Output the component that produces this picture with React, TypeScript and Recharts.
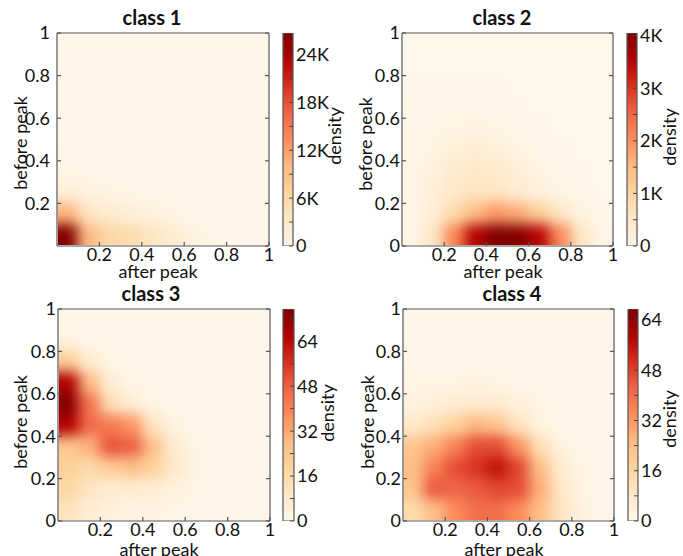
import React from 'react';
import { ScatterChart, Scatter, XAxis, YAxis, BarChart, Bar } from 'recharts';

const PAGE_W = 683;
const PAGE_H = 556;

// ---------- data ----------
const titles = ['class 1', 'class 2', 'class 3', 'class 4'];
const xAxisLabel = 'after peak';
const yAxisLabel = 'before peak';
const colorbarLabel = 'density';

const xTickValues = [0.2, 0.4, 0.6, 0.8, 1];
const yTickValuesClass1 = [0.2, 0.4, 0.6, 0.8, 1];
const yTickValuesOther = [0, 0.2, 0.4, 0.6, 0.8, 1];
const frameTicks = [0, 0.2, 0.4, 0.6, 0.8, 1];

// cell centres of the density grid (after peak columns / before peak rows)
const cellCenters = [0.05, 0.15, 0.25, 0.35, 0.45, 0.55, 0.65, 0.75, 0.85, 0.95];

// rows listed from top (before peak 0.9-1.0) to bottom (0-0.1); columns after peak 0-0.1 ... 0.9-1.0
const class1Density = [
  [250, 250, 250, 250, 250, 250, 250, 250, 250, 250],
  [250, 250, 250, 250, 250, 250, 250, 250, 250, 250],
  [250, 250, 250, 250, 250, 250, 250, 250, 250, 250],
  [300, 250, 250, 250, 250, 250, 250, 250, 250, 250],
  [350, 300, 250, 250, 250, 250, 250, 250, 250, 250],
  [450, 350, 300, 250, 250, 250, 250, 250, 250, 250],
  [700, 550, 450, 350, 300, 250, 250, 250, 250, 250],
  [1800, 1300, 1000, 700, 500, 350, 300, 250, 250, 250],
  [10500, 4000, 2400, 1800, 1300, 800, 500, 350, 250, 250],
  [26500, 10000, 6200, 5200, 3800, 2200, 1200, 600, 350, 250],
];
const class2Density = [
  [30, 30, 30, 30, 30, 30, 30, 30, 30, 30],
  [30, 30, 30, 30, 30, 30, 30, 30, 30, 30],
  [40, 40, 50, 50, 40, 30, 30, 30, 30, 30],
  [50, 60, 80, 80, 60, 40, 30, 30, 30, 30],
  [60, 100, 150, 160, 120, 80, 50, 30, 30, 30],
  [70, 150, 250, 300, 250, 150, 80, 50, 30, 30],
  [80, 220, 420, 500, 430, 260, 130, 70, 40, 30],
  [90, 260, 500, 620, 580, 400, 220, 120, 60, 30],
  [90, 300, 850, 1500, 1900, 1700, 1150, 550, 170, 50],
  [90, 550, 2100, 3500, 4050, 4000, 3500, 2100, 550, 100],
];
const class3Density = [
  [1, 1, 1, 1, 1, 1, 1, 1, 1, 1],
  [3, 1, 1, 1, 1, 1, 1, 1, 1, 1],
  [22, 7, 2, 1, 1, 1, 1, 1, 1, 1],
  [66, 28, 6, 2, 1, 1, 1, 1, 1, 1],
  [75, 44, 14, 6, 2, 1, 1, 1, 1, 1],
  [66, 46, 42, 36, 11, 3, 1, 1, 1, 1],
  [24, 30, 50, 48, 26, 7, 2, 1, 1, 1],
  [20, 16, 22, 26, 20, 9, 3, 1, 1, 1],
  [18, 11, 7, 7, 6, 4, 2, 1, 1, 1],
  [12, 6, 4, 3, 3, 2, 1, 1, 1, 1],
];
const class4Density = [
  [1, 1, 1, 1, 1, 1, 1, 1, 1, 1],
  [1, 1, 1, 1, 1, 1, 1, 1, 1, 1],
  [1, 1, 1, 1, 1, 1, 1, 1, 1, 1],
  [2, 2, 2, 3, 2, 1, 1, 1, 1, 1],
  [3, 4, 6, 7, 6, 4, 2, 1, 1, 1],
  [8, 12, 18, 26, 22, 10, 3, 1, 1, 1],
  [22, 28, 36, 46, 46, 32, 12, 3, 1, 1],
  [24, 36, 46, 50, 56, 47, 24, 6, 2, 1],
  [22, 44, 42, 44, 47, 46, 28, 8, 2, 1],
  [14, 24, 34, 40, 40, 34, 24, 10, 3, 1],
];
const densities = [class1Density, class2Density, class3Density, class4Density];

const colorbarMax = [26700, 4050, 75.5, 67.5];
const colorbarTicks = [
  [0, 3000, 6000, 9000, 12000, 15000, 18000, 21000, 24000],
  [0, 500, 1000, 1500, 2000, 2500, 3000, 3500, 4000],
  [0, 8, 16, 24, 32, 40, 48, 56, 64, 72],
  [0, 8, 16, 24, 32, 40, 48, 56, 64],
];
const colorbarLabels = [
  [0, 6000, 12000, 18000, 24000],
  [0, 1000, 2000, 3000, 4000],
  [0, 16, 32, 48, 64],
  [0, 16, 32, 48, 64],
];

// ---------- style / layout ----------
const ORRD = ['#fff7ec', '#fee8c8', '#fdd49e', '#fdbb84', '#fc8d59', '#ef6548', '#d7301f', '#b30000', '#7f0000'];
const hexToRgb = (h: string) => [1, 3, 5].map((i) => parseInt(h.slice(i, i + 2), 16));
const ORRD_RGB = ORRD.map(hexToRgb);
function orrd(t: number): string {
  const c = Math.max(0, Math.min(1, t)) * (ORRD.length - 1);
  const i = Math.min(ORRD.length - 2, Math.floor(c));
  const f = c - i;
  const a = ORRD_RGB[i];
  const b = ORRD_RGB[i + 1];
  const rgb = a.map((v, k) => Math.round(v + (b[k] - v) * f));
  return `rgb(${rgb[0]},${rgb[1]},${rgb[2]})`;
}

type Box = { l: number; t: number; r: number; b: number };
interface Layout {
  plot: Box;
  cbL: number;
  cbR: number;
  yGap: number;
  xGap: number;
  title: [number, number];
  xLab: [number, number];
  yLab: [number, number];
  dLab: [number, number];
}
const LAYOUT: Layout[] = [
  { plot: { l: 57, t: 33, r: 269, b: 246 }, cbL: 283, cbR: 293, yGap: 11, xGap: 6, title: [152, 25], xLab: [158, 278], yLab: [20, 143], dLab: [334, 136] },
  { plot: { l: 402, t: 33, r: 613, b: 246 }, cbL: 627, cbR: 637, yGap: 6, xGap: 6, title: [502, 25], xLab: [503, 278], yLab: [365, 144], dLab: [669, 137] },
  { plot: { l: 58, t: 309, r: 270, b: 521 }, cbL: 283, cbR: 294, yGap: 6, xGap: 6, title: [151, 301], xLab: [159, 556], yLab: [20, 422], dLab: [327, 413] },
  { plot: { l: 403, t: 309, r: 614, b: 521 }, cbL: 628, cbR: 638, yGap: 6, xGap: 6, title: [512, 301], xLab: [504, 556], yLab: [367, 422], dLab: [669, 419] },
];

const FRAME = '#555';
const TEXT = '#111';
const FONT = 18;
const EDGE_PAD = 30;

function toCells(rows: number[][]) {
  const n = rows.length;
  return rows.flatMap((row, r) =>
    row.map((v, c) => ({ x: cellCenters[c], y: cellCenters[n - 1 - r], v, col: c, rowTop: r, nCols: row.length, nRows: n }))
  );
}

function makeShape(plot: Box, vmax: number) {
  return (props: any) => {
    const { cx, cy, payload } = props;
    if (cx == null || cy == null || !payload) return <g />;
    const cw = (plot.r - plot.l) / payload.nCols;
    const ch = (plot.b - plot.t) / payload.nRows;
    let x0 = cx - cw / 2 - 0.6;
    let x1 = cx + cw / 2 + 0.6;
    let y0 = cy - ch / 2 - 0.6;
    let y1 = cy + ch / 2 + 0.6;
    if (payload.col === 0) x0 -= EDGE_PAD;
    if (payload.col === payload.nCols - 1) x1 += EDGE_PAD;
    if (payload.rowTop === 0) y0 -= EDGE_PAD;
    if (payload.rowTop === payload.nRows - 1) y1 += EDGE_PAD;
    return <rect x={x0} y={y0} width={x1 - x0} height={y1 - y0} fill={orrd(payload.v / vmax)} stroke="none" />;
  };
}

const fmtK = (v: number) => (v >= 1000 ? `${v / 1000}K` : `${v}`);
const lineStyle: any = { stroke: FRAME, strokeWidth: 1.2 };

function HeatPanel({ idx }: { idx: number }) {
  const L = LAYOUT[idx];
  const vmax = colorbarMax[idx];
  const cells = toCells(densities[idx]);
  const XH = 30;
  const YW = 50;
  const margin = { top: L.plot.t - 1, left: L.plot.l - YW, right: PAGE_W - L.plot.r - 1, bottom: PAGE_H - L.plot.b - XH };
  const tickStyle = { fontSize: FONT, fill: TEXT };
  const low: any = { zIndex: 100 };
  const high: any = { zIndex: 700 };
  return (
    <div style={{ position: 'absolute', left: 0, top: 0 }}>
      <ScatterChart width={PAGE_W} height={PAGE_H} margin={margin}>
        <Scatter data={cells} dataKey="y" shape={makeShape(L.plot, vmax)} isAnimationActive={false} className={`heat${idx}`} {...low} />
        <XAxis
          type="number"
          dataKey="x"
          domain={[0, 1]}
          ticks={xTickValues}
          interval={0}
          height={XH}
          tickSize={-4}
          tickMargin={L.xGap}
          tick={tickStyle}
          axisLine={lineStyle}
          tickLine={lineStyle}
          {...high}
        />
        <YAxis
          type="number"
          dataKey="y"
          domain={[0, 1]}
          ticks={idx === 0 ? yTickValuesClass1 : yTickValuesOther}
          interval={0}
          width={YW}
          tickSize={-4}
          tickMargin={L.yGap}
          tick={tickStyle}
          axisLine={lineStyle}
          tickLine={lineStyle}
          {...high}
        />
        <XAxis
          xAxisId="top"
          orientation="top"
          type="number"
          domain={[0, 1]}
          allowDataOverflow
          ticks={frameTicks}
          interval={0}
          height={1}
          tickSize={-4}
          tickFormatter={() => ''}
          axisLine={lineStyle}
          tickLine={lineStyle}
          {...high}
        />
        <YAxis
          yAxisId="right"
          orientation="right"
          type="number"
          domain={[0, 1]}
          allowDataOverflow
          ticks={frameTicks}
          interval={0}
          width={1}
          tickSize={-4}
          tickFormatter={() => ''}
          axisLine={lineStyle}
          tickLine={lineStyle}
          {...high}
        />
      </ScatterChart>
    </div>
  );
}

function Colorbar({ idx }: { idx: number }) {
  const L = LAYOUT[idx];
  const vmax = colorbarMax[idx];
  const YW = 40;
  const labels = colorbarLabels[idx];
  const margin = { top: L.plot.t, bottom: PAGE_H - L.plot.b, left: L.cbL, right: PAGE_W - L.cbR - YW };
  return (
    <div style={{ position: 'absolute', left: 0, top: 0 }}>
      <BarChart width={PAGE_W} height={PAGE_H} margin={margin} data={[{ k: 'cb', v: vmax }]} barCategoryGap={0}>
        <XAxis dataKey="k" hide />
        <Bar dataKey="v" fill="url(#orrdGrad)" stroke={FRAME} strokeWidth={1.2} isAnimationActive={false} />
        <YAxis
          orientation="right"
          type="number"
          domain={[0, vmax]}
          allowDataOverflow
          ticks={colorbarTicks[idx]}
          interval={0}
          width={YW}
          tickSize={-4}
          tickMargin={7}
          axisLine={false}
          tickLine={{ stroke: '#444' }}
          tick={{ fontSize: FONT, fill: TEXT, textAnchor: 'start' }}
          tickFormatter={(v: number) => (labels.includes(v) ? fmtK(v) : '')}
        />
      </BarChart>
    </div>
  );
}

export default function App() {
  const css = LAYOUT.map((_, i) => `.heat${i}{filter:url(#heatBlur);clip-path:url(#plotClip${i});}`).join('\n');
  return (
    <div style={{ position: 'absolute', left: 0, top: 0, width: PAGE_W, height: PAGE_H, background: '#fff', fontFamily: 'Lato, "Noto Sans", sans-serif', overflow: 'hidden' }}>
      <style>{css}</style>
      {LAYOUT.map((_, i) => (
        <HeatPanel key={`h${i}`} idx={i} />
      ))}
      {LAYOUT.map((_, i) => (
        <Colorbar key={`c${i}`} idx={i} />
      ))}
      <svg width={PAGE_W} height={PAGE_H} style={{ position: 'absolute', left: 0, top: 0, pointerEvents: 'none' }}>
        <defs>
          <filter id="heatBlur" x="0" y="0" width={PAGE_W} height={PAGE_H} filterUnits="userSpaceOnUse" colorInterpolationFilters="sRGB">
            <feGaussianBlur stdDeviation="6.5" />
          </filter>
          {LAYOUT.map((L, i) => (
            <clipPath id={`plotClip${i}`} key={`cp${i}`} clipPathUnits="userSpaceOnUse">
              <rect x={L.plot.l + 1} y={L.plot.t + 1} width={L.plot.r - L.plot.l - 2} height={L.plot.b - L.plot.t - 2} />
            </clipPath>
          ))}
          <linearGradient id="orrdGrad" x1="0" y1="1" x2="0" y2="0">
            {ORRD.map((c, i) => (
              <stop key={c} offset={i / (ORRD.length - 1)} stopColor={c} />
            ))}
          </linearGradient>
        </defs>
        {LAYOUT.map((L, i) => (
          <g key={`t${i}`} fill={TEXT} fontSize={FONT}>
            <text x={L.title[0]} y={L.title[1]} textAnchor="middle" fontWeight="bold" fontSize={20}>
              {titles[i]}
            </text>
            <text x={L.xLab[0]} y={L.xLab[1]} textAnchor="middle">
              {xAxisLabel}
            </text>
            <text x={L.yLab[0]} y={L.yLab[1]} textAnchor="middle" dominantBaseline="central" transform={`rotate(-90 ${L.yLab[0]} ${L.yLab[1]})`}>
              {yAxisLabel}
            </text>
            <text x={L.dLab[0]} y={L.dLab[1]} textAnchor="middle" dominantBaseline="central" transform={`rotate(-90 ${L.dLab[0]} ${L.dLab[1]})`}>
              {colorbarLabel}
            </text>
          </g>
        ))}
      </svg>
    </div>
  );
}
